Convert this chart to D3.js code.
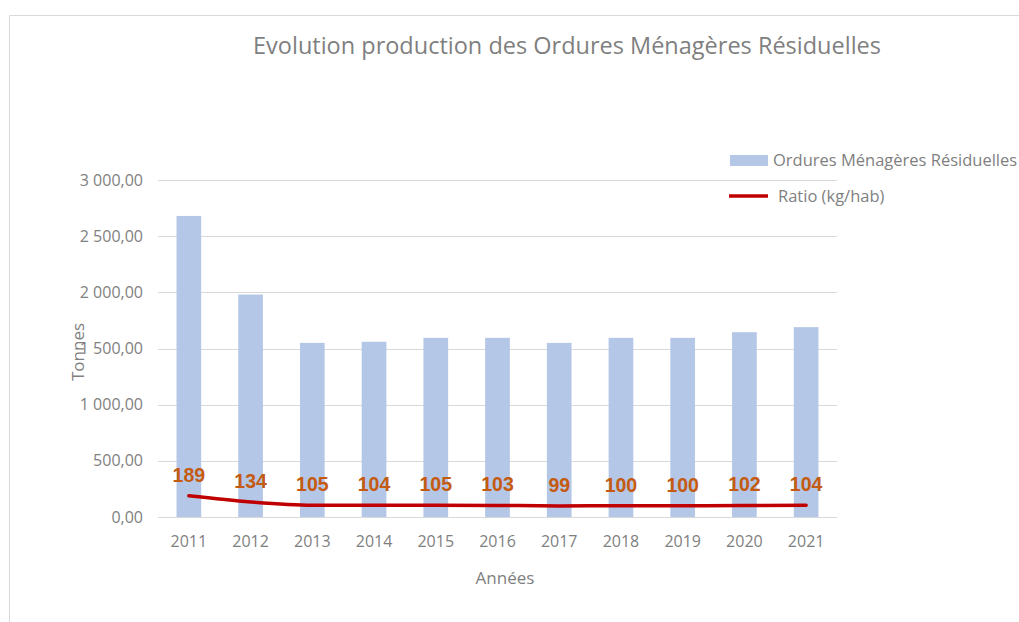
<!DOCTYPE html>
<html>
<head>
<meta charset="utf-8">
<script src="https://cdn.jsdelivr.net/npm/d3@7"></script>
<style>
  body { margin: 0; background: #fff; }
  svg { display: block; font-family: "Open Sans", "Noto Sans", sans-serif; }
</style>
</head>
<body>
<div id="chart"></div>
<script>
// Data
const years = ["2011", "2012", "2013", "2014", "2015", "2016", "2017", "2018", "2019", "2020", "2021"];
const tonnes = [2680, 1980, 1550, 1560, 1595, 1595, 1550, 1595, 1595, 1645, 1690];
const ratio = [189, 134, 105, 104, 105, 103, 99, 100, 100, 102, 104];
const yTicks = [0, 500, 1000, 1500, 2000, 2500, 3000];

const width = 1019, height = 622;
const plot = { left: 158, right: 837, top: 180, bottom: 517 };

const svg = d3.select("#chart").append("svg")
    .attr("width", width)
    .attr("height", height);

// chart border (top + left only visible)
svg.append("path")
    .attr("d", `M9.5,${height} V15.5 H${width}`)
    .attr("fill", "none")
    .attr("stroke", "#d9d9d9")
    .attr("stroke-width", 1);

// Scales
const x = d3.scaleBand()
    .domain(years)
    .range([plot.left, plot.right])
    .paddingInner(0.6)
    .paddingOuter(0.3);

const y = d3.scaleLinear()
    .domain([0, 3000])
    .range([plot.bottom, plot.top]);

const fmt = v => d3.format(",.2f")(v).replace(/,/g, " ").replace(".", ",");

// Gridlines
svg.append("g")
    .selectAll("line")
    .data(yTicks)
    .join("line")
    .attr("x1", plot.left).attr("x2", plot.right)
    .attr("y1", d => Math.round(y(d)) + 0.5)
    .attr("y2", d => Math.round(y(d)) + 0.5)
    .attr("stroke", "#d9d9d9")
    .attr("stroke-width", 1);

// Y axis labels
svg.append("g")
    .selectAll("text")
    .data(yTicks)
    .join("text")
    .attr("x", 143)
    .attr("y", d => y(d))
    .attr("dy", "0.35em")
    .attr("text-anchor", "end")
    .attr("fill", "#7f7f7f")
    .style("font-size", "16px")
    .text(fmt);

// Bars
svg.append("g")
    .selectAll("rect")
    .data(years.map((yr, i) => ({ yr, v: tonnes[i] })))
    .join("rect")
    .attr("x", d => x(d.yr))
    .attr("width", x.bandwidth())
    .attr("y", d => y(d.v))
    .attr("height", d => y(0) - y(d.v))
    .attr("fill", "#b4c7e7");

// X labels
svg.append("g")
    .selectAll("text")
    .data(years)
    .join("text")
    .attr("x", d => x(d) + x.bandwidth() / 2)
    .attr("y", 541)
    .attr("dy", "0.35em")
    .attr("text-anchor", "middle")
    .attr("fill", "#7f7f7f")
    .style("font-size", "16px")
    .text(d => d);

// Ratio line
const pts = years.map((yr, i) => ({ yr, v: ratio[i] }));
const line = d3.line()
    .x(d => x(d.yr) + x.bandwidth() / 2)
    .y(d => y(d.v))
    .curve(d3.curveMonotoneX);

svg.append("path")
    .datum(pts)
    .attr("d", line)
    .attr("fill", "none")
    .attr("stroke", "#c00000")
    .attr("stroke-width", 3.5)
    .attr("stroke-linecap", "round");

// Data labels
svg.append("g")
    .selectAll("text")
    .data(pts)
    .join("text")
    .attr("x", d => x(d.yr) + x.bandwidth() / 2)
    .attr("y", d => y(d.v) - 21)
    .attr("dy", "0.35em")
    .attr("text-anchor", "middle")
    .attr("fill", "#c55a11")
    .style("font-family", "'Liberation Sans', Arial, sans-serif")
    .style("font-weight", "bold")
    .style("font-size", "19.5px")
    .text(d => d.v);

// Title
svg.append("text")
    .attr("x", 567)
    .attr("y", 46)
    .attr("dy", "0.35em")
    .attr("text-anchor", "middle")
    .attr("fill", "#7f7f7f")
    .style("font-size", "23.5px")
    .text("Evolution production des Ordures Ménagères Résiduelles");

// Axis titles
svg.append("text")
    .attr("x", 505)
    .attr("y", 578)
    .attr("dy", "0.35em")
    .attr("text-anchor", "middle")
    .attr("fill", "#7f7f7f")
    .style("font-size", "17px")
    .text("Années");

svg.append("text")
    .attr("transform", "translate(78,352) rotate(-90)")
    .attr("dy", "0.35em")
    .attr("text-anchor", "middle")
    .attr("fill", "#7f7f7f")
    .style("font-size", "17px")
    .text("Tonnes");

// Legend
const legend = svg.append("g");
legend.append("rect")
    .attr("x", 730).attr("y", 155)
    .attr("width", 38).attr("height", 11)
    .attr("fill", "#b4c7e7");
legend.append("text")
    .attr("x", 773).attr("y", 160)
    .attr("dy", "0.35em")
    .attr("fill", "#7f7f7f")
    .style("font-size", "16.5px")
    .text("Ordures Ménagères Résiduelles");
legend.append("line")
    .attr("x1", 729).attr("x2", 768)
    .attr("y1", 196).attr("y2", 196)
    .attr("stroke", "#c00000")
    .attr("stroke-width", 3.5);
legend.append("text")
    .attr("x", 778).attr("y", 196)
    .attr("dy", "0.35em")
    .attr("fill", "#7f7f7f")
    .style("font-size", "16.5px")
    .text("Ratio (kg/hab)");
</script>
</body>
</html>
